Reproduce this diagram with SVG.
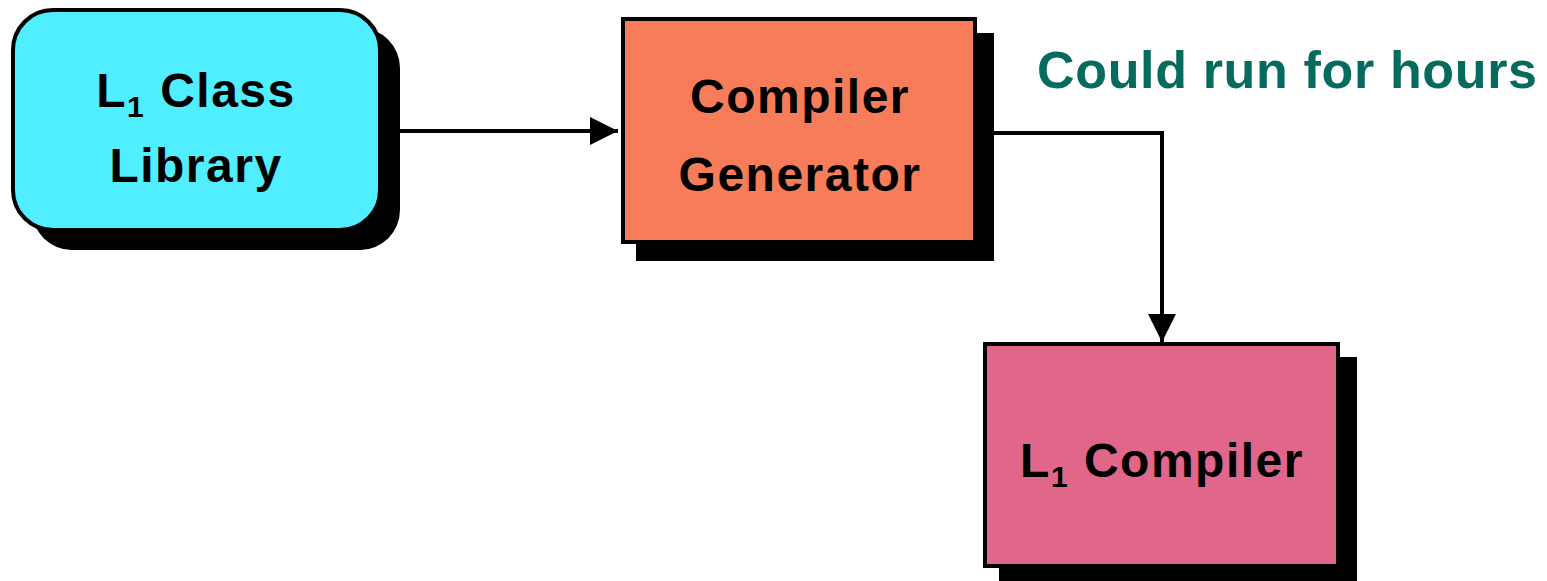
<svg xmlns="http://www.w3.org/2000/svg" width="1547" height="581" viewBox="0 0 1547 581">
<style>
.lbl{font-family:"Liberation Sans",Arial,sans-serif;font-weight:bold;font-size:48px;letter-spacing:1.5px;fill:#000;text-anchor:middle}
.sub{font-size:30px}
.shadow{fill:#000}
.conn{fill:none;stroke:#000;stroke-width:4}
.note{font-family:"Liberation Sans",Arial,sans-serif;font-weight:bold;font-size:52px;fill:#056B5E}
</style>
<defs>
<marker id="arr" viewBox="0 0 28 28" refX="28" refY="14" markerWidth="28" markerHeight="28" markerUnits="userSpaceOnUse" orient="auto">
<path d="M0,0 L28,14 L0,28 Z" fill="#000"/>
</marker>
</defs>
<g id="connectors">
<path class="conn" d="M400,131 H618" marker-end="url(#arr)"/>
<path class="conn" d="M994,133 H1162 V342" marker-end="url(#arr)"/>
</g>
<g id="lib">
<rect class="shadow" x="32" y="28" width="368" height="222" rx="40"/>
<rect x="13" y="10" width="367" height="220" rx="40" fill="#50EEFE" stroke="#000" stroke-width="4"/>
<text class="lbl" x="196" y="107">L<tspan class="sub" dy="10">1</tspan><tspan dy="-10"> Class</tspan></text>
<text class="lbl" x="196" y="182">Library</text>
</g>
<g id="gen">
<rect class="shadow" x="636" y="33" width="358" height="228"/>
<rect x="623" y="19" width="352" height="223" fill="#F77C5A" stroke="#000" stroke-width="4"/>
<text class="lbl" x="800" y="113">Compiler</text>
<text class="lbl" x="800" y="191">Generator</text>
</g>
<g id="comp">
<rect class="shadow" x="999" y="357" width="358" height="224"/>
<rect x="985" y="344" width="353" height="222" fill="#E0668A" stroke="#000" stroke-width="4"/>
<text class="lbl" x="1162" y="477">L<tspan class="sub" dy="10">1</tspan><tspan dy="-10"> Compiler</tspan></text>
</g>
<g id="note">
<text class="note" x="1037" y="88" textLength="500" lengthAdjust="spacing">Could run for hours</text>
</g>
</svg>
